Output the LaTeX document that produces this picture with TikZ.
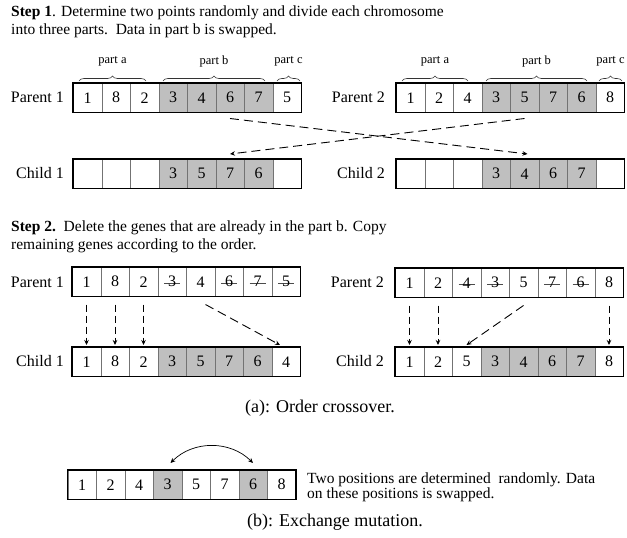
\documentclass[tikz,border=0pt]{standalone}
\usepackage{fontspec}
\setmainfont{Liberation Serif}
\usetikzlibrary{arrows.meta,decorations.pathreplacing}
\newcommand\chromrow[4]{%
  \foreach \v/\s [count=\i] in {#4} {
    \node[cell, \s] (#1-\i) at ({#2+(\i-1)*28.5}, #3) {\v};
  }
  \draw[frame] (#1-1.north west) rectangle (#1-8.south east);
}
\newcommand\partbrace[4]{%
  \draw[bracestyle] (#1,81) -- (#2,81);
  \node[partlbl] (#4) at ({(#1+#2)/2}, 61) {#3};
}
\begin{document}
\begin{tikzpicture}[x=1pt,y=-1pt,
  cell/.style={draw=black!55, line width=0.5pt, minimum width=28.5pt, minimum height=29pt,
    inner sep=0pt, anchor=north west, font=\fontsize{16}{16}\selectfont},
  plain/.style={},
  shaded/.style={fill=gray!50},
  struck/.style={path picture={\draw[black!70, line width=0.5pt]
    ([xshift=-8pt,yshift=-1.5pt]path picture bounding box.center) --
    ([xshift=8pt,yshift=-1.5pt]path picture bounding box.center);}},
  frame/.style={draw=black, line width=1.6pt},
  lbl/.style={font=\fontsize{16}{16}\selectfont, anchor=east, inner sep=0pt},
  head/.style={font=\fontsize{15.5}{16}\selectfont, anchor=west, inner sep=0pt},
  caption/.style={font=\fontsize{18}{18}\selectfont, inner sep=0pt},
  partlbl/.style={font=\fontsize{12.5}{12}\selectfont, inner sep=0pt},
  bracestyle/.style={draw=black!80, line width=0.6pt, decorate,
    decoration={brace, amplitude=5pt}},
  dasharrow/.style={dash pattern=on 9pt off 5pt, line width=0.9pt,
    -{Stealth[length=5pt,width=4.5pt]}},
  vdash/.style={dash pattern=on 7pt off 4pt, line width=0.9pt,
    -{Stealth[length=5pt,width=4.5pt]}},
]
\useasboundingbox (0,0) rectangle (627,538);
\fill[white] (0,0) rectangle (627,538);

% ---------- Step 1 ----------
\node[head] (h1a) at (11,13) {\textbf{Step 1}. Determine two points randomly and divide each chromosome};
\node[head] (h1b) at (11,31) {into three parts.\ \ Data in part b is swapped.};

\partbrace{79}{146}{part a}{pa1}
\partbrace{163}{265}{part b}{pb1}
\partbrace{277}{300}{part c}{pc1}
\partbrace{402}{468}{part a}{pa2}
\partbrace{486}{587}{part b}{pb2}
\partbrace{599}{622}{part c}{pc2}

\node[lbl] (l1) at (64,97.5) {Parent 1};
\node[lbl] (l2) at (385,97.5) {Parent 2};
\node[lbl] (l3) at (64,173.5) {Child 1};
\node[lbl] (l4) at (385,173.5) {Child 2};

\chromrow{sa}{73}{83}{1/plain,8/plain,2/plain,3/shaded,4/shaded,6/shaded,7/shaded,5/plain}
\chromrow{sb}{396}{83}{1/plain,2/plain,4/plain,3/shaded,5/shaded,7/shaded,6/shaded,8/plain}
\chromrow{sc}{73}{159}{{}/plain,{}/plain,{}/plain,3/shaded,5/shaded,7/shaded,6/shaded,{}/plain}
\chromrow{sd}{396}{159}{{}/plain,{}/plain,{}/plain,3/shaded,4/shaded,6/shaded,7/shaded,{}/plain}

\draw[dasharrow] ([yshift=-6pt]sa-6.south) -- ([xshift=3pt,yshift=5pt]sd-5.north);
\draw[dasharrow] ([yshift=-6pt]sb-5.south) -- ([yshift=5pt]sc-6.north);

% ---------- Step 2 ----------
\node[head] (h2a) at (11,228) {\textbf{Step 2.}\ \ Delete the genes that are already in the part b. Copy};
\node[head] (h2b) at (11,246) {remaining genes according to the order.};

\node[lbl] (l5) at (64,282) {Parent 1};
\node[lbl] (l6) at (384,282.5) {Parent 2};
\node[lbl] (l7) at (64,361.5) {Child 1};
\node[lbl] (l8) at (384,361.5) {Child 2};

\chromrow{ta}{72}{267}{1/plain,8/plain,2/plain,3/struck,4/plain,6/struck,7/struck,5/struck}
\chromrow{tb}{395}{268}{1/plain,2/plain,4/struck,3/struck,5/plain,7/struck,6/struck,8/plain}
\chromrow{tc}{72}{347}{1/plain,8/plain,2/plain,3/shaded,5/shaded,7/shaded,6/shaded,4/plain}
\chromrow{td}{395}{347}{1/plain,2/plain,5/plain,3/shaded,4/shaded,6/shaded,7/shaded,8/plain}

\foreach \k in {1,2,3}
  \draw[vdash] ([yshift=-8pt]ta-\k.south) -- ([yshift=2pt]tc-\k.north);
\draw[dasharrow] ([xshift=5pt,yshift=-8pt]ta-5.south) -- ([xshift=-6pt,yshift=2pt]tc-8.north);
\foreach \k in {1,2,8}
  \draw[vdash] ([yshift=-8pt]tb-\k.south) -- ([yshift=2pt]td-\k.north);
\draw[dasharrow] ([yshift=-8pt]tb-5.south) -- ([yshift=2pt]td-3.north);

\node[caption] (capa) at (320,408) {(a): Order crossover.};

% ---------- Mutation ----------
\chromrow{m}{67.5}{470}{1/plain,2/plain,4/plain,3/shaded,5/plain,7/plain,6/shaded,8/plain}
\draw[line width=0.7pt, {Stealth[length=5pt,width=4.5pt]}-{Stealth[length=5pt,width=4.5pt]}]
  ([xshift=3pt,yshift=7pt]m-4.north) to[bend left=45] ([yshift=7pt]m-7.north);
\node[font=\fontsize{15.5}{15}\selectfont, align=left, anchor=west, inner sep=0pt] (mtxt)
  at (307,487) {Two positions are determined\ \ randomly. Data\\on these positions is swapped.};
\node[caption] (capb) at (335,522) {(b): Exchange mutation.};
\end{tikzpicture}
\end{document}
